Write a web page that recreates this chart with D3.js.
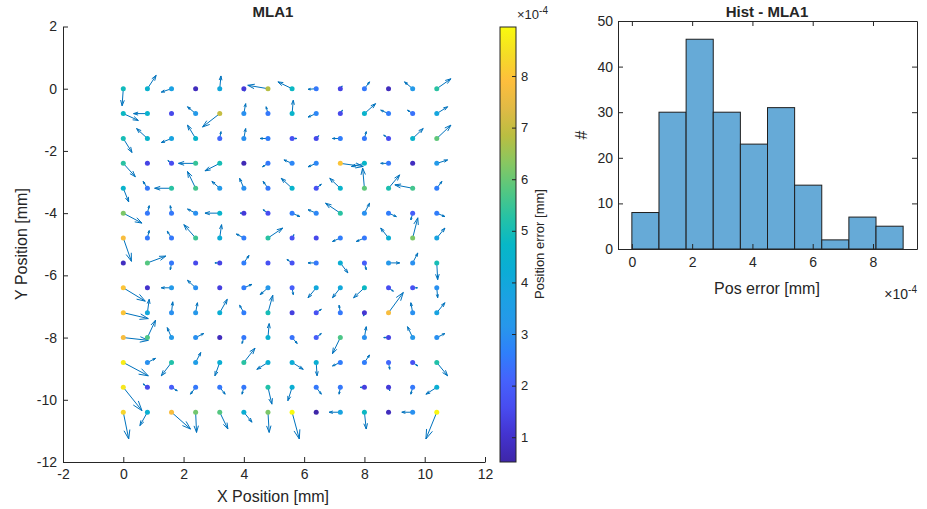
<!DOCTYPE html>
<html>
<head>
<meta charset="utf-8">
<script src="https://cdnjs.cloudflare.com/ajax/libs/d3/7.8.5/d3.min.js"></script>
<style>
  body { margin: 0; background: #fff; }
  text { font-family: Arial, "Liberation Sans", sans-serif; fill: #262626; }
</style>
</head>
<body>
<svg id="chart" width="927" height="509"></svg>
<script>
/*global d3*/

// grid of the lens array [mm]
var xPos = [0, 0.8, 1.6, 2.4, 3.2, 4.0, 4.8, 5.6, 6.4, 7.2, 8.0, 8.8, 9.6, 10.4];
var yPos = [0, -0.8, -1.6, -2.4, -3.2, -4.0, -4.8, -5.6, -6.4, -7.2, -8.0, -8.8, -9.6, -10.4];

// position error per spot [x1e-4 mm], one row per yPos
var posErr = [
  [4.9, 4.5, 3.7, 0.8, 4.0, 1.2, 6.8, 4.8, 2.5, 1.4, 2.5, 0.8, 3.3, 5.3],
  [4.8, 4.5, 1.5, 3.3, 7.0, 3.0, 2.5, 4.6, 2.8, 1.5, 4.55, 2.6, 2.4, 3.9],
  [5.0, 4.6, 3.8, 4.6, 2.2, 3.0, 2.6, 1.7, 1.5, 2.6, 2.5, 1.6, 4.55, 5.9],
  [5.3, 1.4, 1.6, 5.45, 5.0, 0.7, 2.5, 2.8, 2.8, 8.0, 4.7, 2.5, 0.85, 3.3],
  [4.55, 2.5, 5.3, 5.6, 3.3, 3.0, 2.5, 4.6, 1.7, 4.55, 5.9, 5.1, 5.6, 2.6],
  [6.2, 2.5, 2.5, 3.0, 4.55, 1.2, 1.6, 2.6, 2.8, 5.3, 3.0, 2.6, 2.0, 2.6],
  [7.8, 2.5, 2.5, 5.5, 4.2, 2.6, 5.3, 1.7, 1.5, 2.6, 2.5, 4.3, 6.2, 3.8],
  [0.85, 5.8, 2.5, 1.5, 1.4, 2.6, 1.7, 1.7, 2.5, 4.3, 2.0, 3.2, 3.0, 5.0],
  [8.0, 1.0, 3.3, 3.0, 1.3, 2.6, 3.2, 2.0, 4.0, 4.0, 4.8, 1.6, 1.7, 3.0],
  [8.0, 4.0, 3.0, 3.2, 4.3, 2.6, 5.0, 1.3, 1.7, 2.5, 1.1, 7.8, 3.0, 3.8],
  [7.8, 5.7, 3.3, 3.0, 0.8, 2.5, 4.4, 2.4, 2.0, 5.7, 3.0, 1.4, 3.2, 3.0],
  [8.7, 3.0, 5.2, 3.5, 4.3, 5.3, 4.3, 4.2, 4.3, 2.6, 2.6, 2.2, 1.7, 5.2],
  [8.6, 1.5, 2.0, 2.5, 2.5, 2.5, 5.2, 4.3, 2.5, 2.5, 1.3, 1.2, 2.5, 4.3],
  [8.3, 4.4, 7.8, 6.1, 5.8, 4.3, 6.2, 8.95, 0.52, 3.8, 4.8, 0.8, 3.0, 8.9]
];

// error vector components [x1e-4 mm]
var errU = [
  [-0.4, 2.9, -3.4, 0, 0.4, 0.2, -6.7, -4.7, -2.7, 0.6, 1.7, 0, -2.7, 4.7],
  [5.0, -4.6, 0, -2.7, -5.7, 0.6, -0.6, 0.4, -2.7, 0.7, 3.7, -2.6, -1.7, 3.6],
  [2.9, -3.6, -3.4, -2.7, 0.4, 0.6, -2.6, 1.6, 0.8, -2.6, 0.6, -1.6, 3.5, 4.7],
  [4.0, 0, -1.2, -5.7, -4.9, 0, -1.8, -2.7, -2.7, 7.6, -4.3, -2.6, 0, 3.6],
  [1.8, -1.4, -5.6, -2.7, -2.6, -1.4, -1.6, -3.6, 1.7, -3.5, -0.6, 3.7, -5.9, 1.7],
  [6.2, 0.6, -0.4, -2.7, -4.9, -1.2, -1.6, 2.6, -2.7, -4.9, 1.7, 2.6, -0.6, 2.7],
  [2.7, 0.6, -1.4, -3.9, 0.6, -2.5, 4.9, 0.6, 0, -2.6, -2.7, -2.6, 1.7, 2.7],
  [0, 6.1, -0.4, 0, -1.6, 1.7, 0, -1.7, -2.7, 2.5, 0.6, 3.7, 1.7, 0.3],
  [7.3, -0.3, -3.4, -2.7, 0, 2.7, -2.6, 0.4, -2.7, -2.6, -3.6, 1.6, 1.6, 0.3],
  [8.3, 0.6, 0.4, 0.6, 2.5, -1.4, 1.6, 0, 1.7, -0.4, -0.3, 4.9, -0.6, 2.7],
  [8.3, 2.7, -1.4, 2.7, 0, -0.6, 0.4, 1.7, 1.7, -2.6, 0.6, -1.6, -1.7, 2.7],
  [8.3, 2.7, -3.4, 1.7, -1.6, 3.7, -3.7, 3.7, 0.3, -2.6, 1.7, 0.4, 1.7, 3.6],
  [6.2, -1.4, 1.9, -1.7, 1.8, -0.6, 1.3, -1.4, 1.7, -0.4, -1.4, 0.4, -0.6, -3.6],
  [1.8, -2.5, 6.3, 0.3, 2.7, 2.7, 0.4, 2.4, 0, -3.7, 0.6, 0, -3.6, -3.6]
];
var errV = [
  [-5.5, 4.3, -1.1, 0, 4.1, -0.8, 1.1, 2.2, -0.2, 0.9, 2.2, 0, 2.2, 3.2],
  [-2.2, 0, 0, 2.2, -4.3, 3.2, 2.2, 4.3, -1.1, 1.1, 3.2, 1.1, 1.1, 2.2],
  [-4.5, 3.2, -1.3, 4.3, 2.2, 3.2, 0, 0, 0.9, 0, 2.2, 1.1, 3.2, 4.3],
  [-4.3, 0.6, 0.9, 0, -2.4, 0, -1.1, 1.1, -1.1, -1.0, -1.0, 0, 0, 1.1],
  [-4.4, 2.2, 0, 5.4, 2.2, 3.2, 2.2, 3.2, 1.3, 3.2, 6.5, 4.3, 1.1, 2.2],
  [-3.2, 2.4, 2.4, 1.3, 0, 0, 1.1, -1.1, 1.1, 3.2, 3.2, -1.1, -2.2, -1.1],
  [-7.5, 2.4, 2.2, 4.3, 4.3, 1.3, 3.2, 1.1, 0, -1.1, -1.1, 3.2, 6.5, 3.2],
  [0, 2.2, -2.2, 0, 0, 2.4, 0, 1.1, 0, -3.2, -2.2, 0, 3.2, -5.4],
  [-4.3, 0, 0, 2.4, 0, 1.1, -2.2, -2.2, -3.2, -3.2, -3.2, -1.1, 0, -3.2],
  [-1.9, 4.3, 3.5, 3.2, 4.3, 2.4, 5.6, 0, 1.1, 2.4, -1.1, 6.5, 3.2, 3.2],
  [-0.9, 5.6, 3.2, 1.3, 0, -1.9, 4.5, -1.9, 1.3, -5.2, 3.5, 0, 3.5, 1.3],
  [-4.3, 1.3, -4.3, 3.2, -4.3, 4.6, -2.2, -2.2, -4.3, -1.1, 2.4, -2.2, -1.1, -4.3],
  [-7.5, 1.1, -1.1, -2.2, -2.2, -2.2, -5.4, -4.3, -2.2, -2.2, 0, -1.1, -2.2, -2.2],
  [-8.6, -4.3, -5.4, -6.5, -5.4, -3.2, -6.5, -8.6, 0, 0, -5.4, 0, 0, -8.6]
];

// histogram of the position error
var histEdges = [0, 0.9, 1.8, 2.7, 3.6, 4.5, 5.4, 6.3, 7.2, 8.1, 9.0];
var histCounts = [8, 30, 46, 30, 23, 31, 14, 2, 7, 5];

var xTicks = [-2, 0, 2, 4, 6, 8, 10, 12];
var yTicks = [-12, -10, -8, -6, -4, -2, 0, 2];
var cbTicks = [1, 2, 3, 4, 5, 6, 7, 8];
var histXTicks = [0, 2, 4, 6, 8];
var histYTicks = [0, 10, 20, 30, 40, 50];

// parula-like colormap
var parula = ["#3e26a8", "#4333cf", "#484cf0", "#4562fc", "#2f7ffb", "#2797eb",
  "#1ca1e3", "#0cacd6", "#07b7c7", "#26c2a5", "#54c781", "#88c761",
  "#babe41", "#e0ba45", "#fdbe3d", "#f5dc26", "#f9fa0e"];

var axisColor = "#262626";
var arrowColor = "#0072bd";
var arrowScale = 0.1;   // mm of plot per 1e-4 mm of error
var fmt = d => String(d);  // plain hyphen minus, like matlab

var svg = d3.select("#chart");

// flatten the grid into points
var points = [];
yPos.forEach(function(yv, r) {
  xPos.forEach(function(xv, c) {
    points.push({x: xv, y: yv, e: posErr[r][c], u: errU[r][c], v: errV[r][c]});
  });
});

var eMin = d3.min(points, d => d.e),
    eMax = d3.max(points, d => d.e);

var color = d3.scaleLinear()
  .domain(parula.map((c, i) => eMin + (eMax - eMin) * i / (parula.length - 1)))
  .range(parula)
  .interpolate(d3.interpolateRgb)
  .clamp(true);

function styleAxis(g) {
  g.attr("font-family", null);
  g.select(".domain").attr("stroke", axisColor);
  g.selectAll(".tick line").attr("stroke", axisColor);
  g.selectAll(".tick text").attr("fill", axisColor).style("font-size", "14px");
}

// ---------- left panel: spot errors ----------
var x = d3.scaleLinear().domain([-2, 12]).range([63, 485]);
var y = d3.scaleLinear().domain([-12, 2]).range([462, 26.5]);

svg.append("g")
  .attr("transform", "translate(0,462)")
  .call(d3.axisBottom(x).tickValues(xTicks).tickFormat(fmt).tickSizeInner(-5).tickSizeOuter(0).tickPadding(7))
  .call(styleAxis);

svg.append("g")
  .attr("transform", "translate(63,0)")
  .call(d3.axisLeft(y).tickValues(yTicks).tickFormat(fmt).tickSizeInner(-5).tickSizeOuter(0).tickPadding(6))
  .call(styleAxis);

// arrows (quiver style)
var alpha = 0.33, beta = 0.33;
svg.append("g")
  .selectAll("path")
  .data(points.filter(d => Math.hypot(d.u, d.v) > 0.2))
  .join("path")
  .attr("fill", "none")
  .attr("stroke", arrowColor)
  .attr("stroke-width", 1)
  .attr("d", function(d) {
    var x0 = x(d.x), y0 = y(d.y);
    var x1 = x(d.x + d.u * arrowScale), y1 = y(d.y + d.v * arrowScale);
    var du = x1 - x0, dv = y1 - y0;
    var hx1 = x1 - alpha * (du + beta * dv), hy1 = y1 - alpha * (dv - beta * du);
    var hx2 = x1 - alpha * (du - beta * dv), hy2 = y1 - alpha * (dv + beta * du);
    return "M" + x0 + "," + y0 + "L" + x1 + "," + y1 +
      "M" + hx1 + "," + hy1 + "L" + x1 + "," + y1 + "L" + hx2 + "," + hy2;
  });

svg.append("g")
  .selectAll("circle")
  .data(points)
  .join("circle")
  .attr("cx", d => x(d.x))
  .attr("cy", d => y(d.y))
  .attr("r", 2.5)
  .attr("fill", d => color(d.e));

svg.append("text")
  .attr("x", 273).attr("y", 17)
  .attr("text-anchor", "middle")
  .style("font-size", "15px").style("font-weight", "bold")
  .text("MLA1");

svg.append("text")
  .attr("x", 273).attr("y", 502)
  .attr("text-anchor", "middle")
  .style("font-size", "16px")
  .text("X Position [mm]");

svg.append("text")
  .attr("transform", "translate(27,244) rotate(-90)")
  .attr("text-anchor", "middle")
  .style("font-size", "16px")
  .text("Y Position [mm]");

// ---------- colorbar ----------
var cbX = 500, cbW = 16, cbTop = 27, cbBot = 462;
var cbScale = d3.scaleLinear().domain([eMin, eMax]).range([cbBot, cbTop]);

var grad = svg.append("defs").append("linearGradient")
  .attr("id", "cbgrad")
  .attr("x1", 0).attr("y1", 1).attr("x2", 0).attr("y2", 0);
grad.selectAll("stop")
  .data(parula)
  .join("stop")
  .attr("offset", (c, i) => i / (parula.length - 1))
  .attr("stop-color", c => c);

svg.append("rect")
  .attr("x", cbX).attr("y", cbTop)
  .attr("width", cbW).attr("height", cbBot - cbTop)
  .attr("fill", "url(#cbgrad)")
  .attr("stroke", axisColor).attr("stroke-width", 1);

var cbAxis = svg.append("g")
  .attr("transform", "translate(" + (cbX + cbW) + ",0)")
  .call(d3.axisRight(cbScale).tickValues(cbTicks).tickFormat(fmt).tickSizeInner(-4).tickSizeOuter(0).tickPadding(5))
  .call(styleAxis);
cbAxis.select(".domain").remove();
cbAxis.selectAll(".tick text").style("font-size", "13px");

svg.append("text")
  .attr("transform", "translate(544,244) rotate(-90)")
  .attr("text-anchor", "middle")
  .style("font-size", "13px")
  .text("Position error [mm]");

var cbExp = svg.append("text")
  .attr("x", 517).attr("y", 19)
  .style("font-size", "13px")
  .attr("fill", "#555");
cbExp.append("tspan").text("\u00d710");
cbExp.append("tspan").attr("dy", -5).style("font-size", "10px").text("-4");

// ---------- right panel: histogram ----------
var hx = d3.scaleLinear().domain([-0.46, 9.46]).range([618, 917]);
var hy = d3.scaleLinear().domain([0, 50]).range([249, 21]);

var bins = histCounts.map((c, i) => ({x0: histEdges[i], x1: histEdges[i + 1], n: c}));

svg.append("g")
  .selectAll("rect")
  .data(bins)
  .join("rect")
  .attr("x", d => hx(d.x0))
  .attr("y", d => hy(d.n))
  .attr("width", d => hx(d.x1) - hx(d.x0))
  .attr("height", d => hy(0) - hy(d.n))
  .attr("fill", "#66aad7")
  .attr("stroke", "#1f1f1f")
  .attr("stroke-width", 1);

svg.append("g")
  .attr("transform", "translate(0,249)")
  .call(d3.axisBottom(hx).tickValues(histXTicks).tickFormat(fmt).tickSizeInner(-5).tickSizeOuter(0).tickPadding(8))
  .call(styleAxis);
svg.append("g")
  .attr("transform", "translate(618,0)")
  .call(d3.axisLeft(hy).tickValues(histYTicks).tickFormat(fmt).tickSizeInner(-5).tickSizeOuter(0).tickPadding(5))
  .call(styleAxis);
// box: top and right with mirrored ticks
svg.append("g")
  .attr("transform", "translate(0,21)")
  .call(d3.axisTop(hx).tickValues(histXTicks).tickSizeInner(-5).tickSizeOuter(0).tickFormat(""))
  .call(styleAxis);
svg.append("g")
  .attr("transform", "translate(917,0)")
  .call(d3.axisRight(hy).tickValues(histYTicks).tickSizeInner(-5).tickSizeOuter(0).tickFormat(""))
  .call(styleAxis);

svg.append("text")
  .attr("x", 767).attr("y", 17)
  .attr("text-anchor", "middle")
  .style("font-size", "15px").style("font-weight", "bold")
  .text("Hist - MLA1");

svg.append("text")
  .attr("x", 767).attr("y", 294)
  .attr("text-anchor", "middle")
  .style("font-size", "16px")
  .text("Pos error [mm]");

svg.append("text")
  .attr("transform", "translate(587,135) rotate(-90)")
  .attr("text-anchor", "middle")
  .style("font-size", "16px")
  .text("#");

var hExp = svg.append("text")
  .attr("x", 917).attr("y", 299)
  .attr("text-anchor", "end")
  .style("font-size", "14px");
hExp.append("tspan").text("\u00d710");
hExp.append("tspan").attr("dy", -6).style("font-size", "10px").text("-4");
</script>
</body>
</html>
